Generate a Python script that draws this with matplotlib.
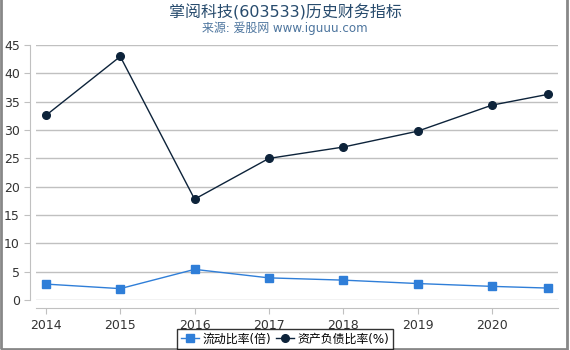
import matplotlib
matplotlib.use('Agg')
import matplotlib.pyplot as plt
from matplotlib.patches import Rectangle

plt.rcParams['font.family'] = ['DejaVu Sans', 'Noto Sans CJK SC']

# data (last point is Q3 2020)
x_pos = [2014, 2015, 2016, 2017, 2018, 2019, 2020, 2020.75]
year_ticks = [2014, 2015, 2016, 2017, 2018, 2019, 2020]
current_ratio = [2.8, 2.0, 5.4, 3.9, 3.5, 2.9, 2.4, 2.1]
debt_ratio = [32.6, 43.0, 17.8, 25.0, 27.0, 29.8, 34.4, 36.3]

fig = plt.figure(figsize=(5.7, 3.5), dpi=100)
ax = fig.add_axes([0.063, 0.143, 0.916, 0.728])

ax.plot(x_pos, current_ratio, color='#2f7ed8', marker='s', markersize=5.5,
        linewidth=1, label='流动比率(倍)')
ax.plot(x_pos, debt_ratio, color='#0d233a', marker='o', markersize=5.5,
        linewidth=1, label='资产负债比率(%)')

ax.set_xlim(2013.865, 2020.89)
ax.set_ylim(0, 45)
ax.set_yticks(range(0, 50, 5))
ax.set_xticks(year_ticks)
ax.set_xticklabels([str(y) for y in year_ticks])
ax.grid(axis='y', color='#c0c0c0', linewidth=1)
ax.set_axisbelow(True)

for s in ['top', 'right']:
    ax.spines[s].set_visible(False)
ax.spines['left'].set_position(('outward', 4))
ax.spines['bottom'].set_position(('outward', 6))
ax.spines['left'].set_color('#c0c0c0')
ax.spines['bottom'].set_color('#c0c0c0')
ax.tick_params(axis='both', colors='#c0c0c0', labelcolor='#333333',
               labelsize=9, length=4)

fig.text(0.5, 0.965, '掌阅科技(603533)历史财务指标', ha='center', va='center',
         fontsize=11.5, color='#274b6d')
fig.text(0.5, 0.918, '来源: 爱股网 www.iguuu.com', ha='center', va='center',
         fontsize=8.6, color='#4d759e')

leg = fig.legend(loc='lower center', bbox_to_anchor=(0.5, 0.003), ncol=2,
                 fontsize=8.6, frameon=True, fancybox=False, handlelength=1.5,
                 handletextpad=0.3, columnspacing=0.4, borderpad=0.3,
                 borderaxespad=0)
leg.get_frame().set_edgecolor('black')
leg.get_frame().set_linewidth(1)

fig.patches.append(Rectangle((0.002, 0.004), 0.992, 1.2, transform=fig.transFigure,
                             fill=False, edgecolor='#888888', linewidth=2))

fig.savefig('out.png', dpi=100)
